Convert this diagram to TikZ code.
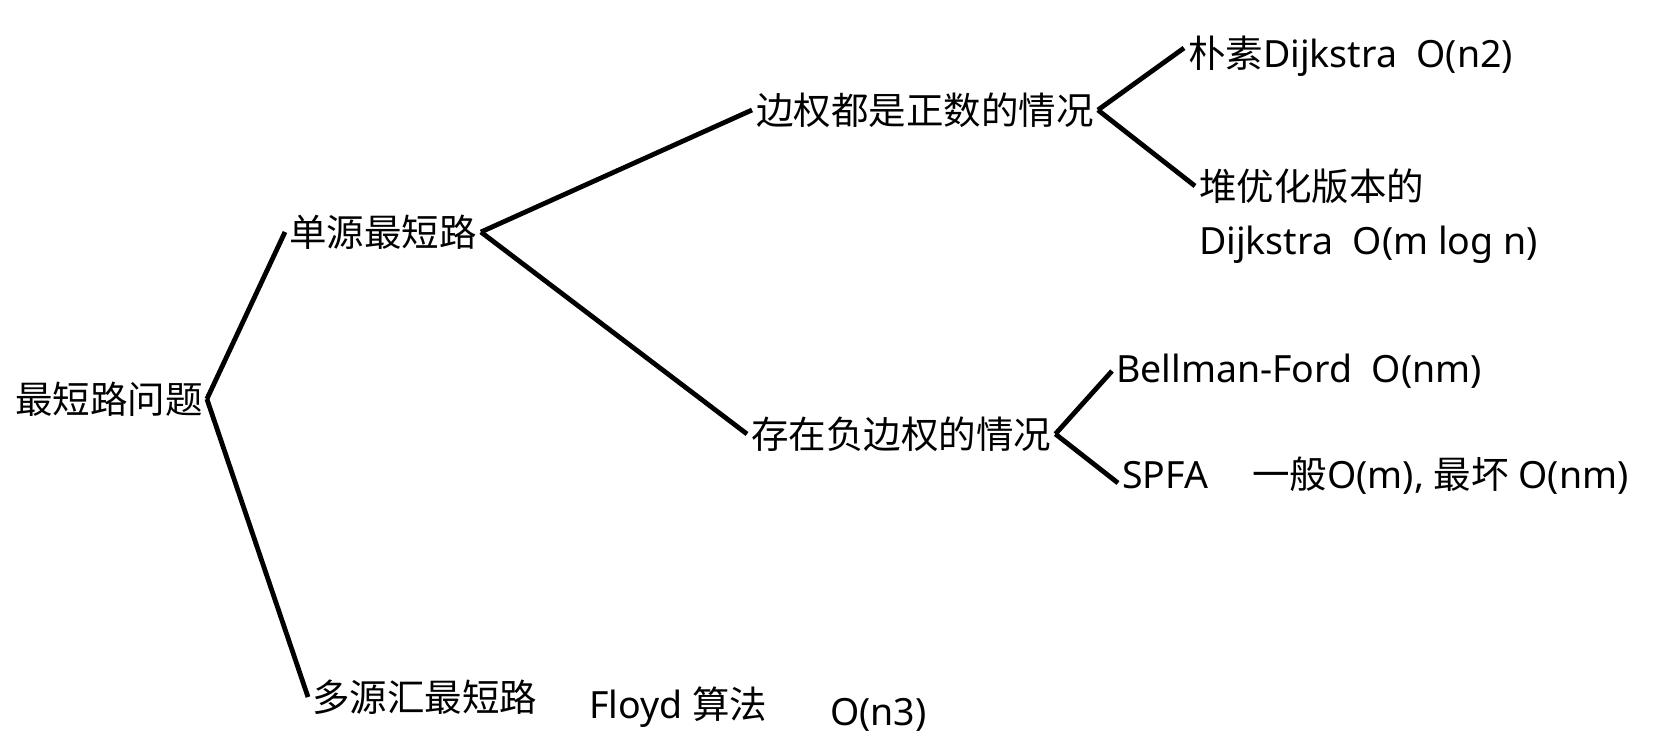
\documentclass[tikz,border=0pt]{standalone}
\usepackage{fontspec}
\setmainfont{Noto Sans}
\newfontfamily\cjk{Noto Sans CJK SC}
\usepackage{tikz}
\usetikzlibrary{positioning}

\newcommand{\zh}[1]{{\cjk #1}}

\begin{document}
\begin{tikzpicture}[
  x=1pt, y=-1pt,
  every node/.style={font=\fontsize{37.5}{42}\selectfont, inner sep=4pt, anchor=west},
  link/.style={line width=4.8pt},
]
  \useasboundingbox (0,0) rectangle (1668,755);

  % levels of the tree
  \node (root)    at (11,399)   {\zh{最短路问题}};
  \node (single)  at (285,232)  {\zh{单源最短路}};
  \node (multi)   at (308,697)  {\zh{多源汇最短路}};
  \node (floyd)   at (585,707)  {Floyd \zh{算法}};
  \node (floydo)  at (826,715)  {O(n3)};
  \node (pos)     at (752,110)  {\zh{边权都是正数的情况}};
  \node (neg)     at (747,434)  {\zh{存在负边权的情况}};
  \node (naive)   at (1184,56)  {\zh{朴素}Dijkstra\ \ O(n2)};
  \node (heap)    at (1195,186) {\zh{堆优化版本的}};
  \node (heapalg) at ([yshift=-59pt]heap.west) {Dijkstra\ \ O(m log n)};
  \node (bf)      at (1112,371) {Bellman-Ford\ \ O(nm)};
  \node (spfa)    at (1118,476) {SPFA\hspace{44pt}\zh{一般}O(m), \zh{最坏} O(nm)};

  \draw[link] (root.east) -- (single.west);
  \draw[link] (root.east) -- (multi.west);
  \draw[link] (single.east) -- (pos.west);
  \draw[link] (single.east) -- (neg.west);
  \draw[link] (pos.east) -- ([yshift=8pt]naive.west);
  \draw[link] (pos.east) -- (heap.west);
  \draw[link] (neg.east) -- (bf.west);
  \draw[link] (neg.east) -- ([yshift=-7pt]spfa.west);
\end{tikzpicture}
\end{document}
